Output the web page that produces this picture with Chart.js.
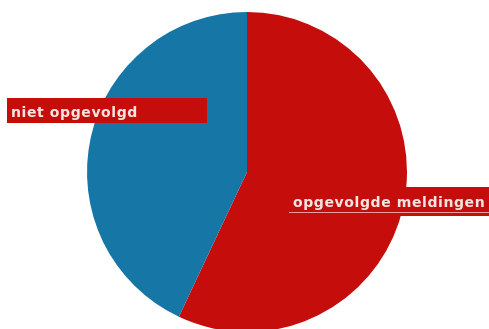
<!DOCTYPE html>
<html>
<head>
<meta charset="utf-8">
<script src="https://cdn.jsdelivr.net/npm/chart.js@4/dist/chart.umd.min.js"></script>
<style>
  html, body { margin: 0; padding: 0; background: #fff; }
  #wrap { width: 489px; height: 329px; }
</style>
</head>
<body>
<div id="wrap"><canvas id="pieChart"></canvas></div>
<script>
// data
const labels = ['opgevolgde meldingen', 'niet opgevolgd'];
const values = [57, 43];
const colors = ['#c50d0b', '#1677a6'];

// label boxes drawn on top of the pie
const labelBoxes = {
    id: 'labelBoxes',
    afterDraw(chart) {
        const ctx = chart.ctx;
        ctx.save();
        ctx.font = 'bold 14px "DejaVu Sans"';
        ctx.letterSpacing = '0.6px';
        ctx.textBaseline = 'alphabetic';

        // left: niet opgevolgd
        ctx.fillStyle = '#c50d0b';
        ctx.fillRect(7, 98, 200, 25);
        ctx.fillStyle = '#f6e4e0';
        ctx.fillText(labels[1], 11, 117);

        // right: opgevolgde meldingen
        ctx.fillStyle = '#c50d0b';
        ctx.fillRect(283, 187, 206, 29);
        ctx.fillStyle = '#f6e4e0';
        ctx.fillText(labels[0], 293, 207);
        ctx.fillStyle = 'rgba(246, 220, 215, 0.7)';
        ctx.fillRect(289, 212, 200, 1);
        ctx.restore();
    }
};

new Chart(document.getElementById('pieChart'), {
    type: 'pie',
    data: {
        labels: labels,
        datasets: [{
            data: values,
            backgroundColor: colors,
            borderWidth: 0
        }]
    },
    options: {
        responsive: true,
        maintainAspectRatio: false,
        animation: false,
        radius: 160,
        layout: { padding: { top: 15, left: 5, right: 0, bottom: 0 } },
        plugins: {
            legend: { display: false },
            tooltip: { enabled: false }
        }
    },
    plugins: [labelBoxes]
});
</script>
</body>
</html>
